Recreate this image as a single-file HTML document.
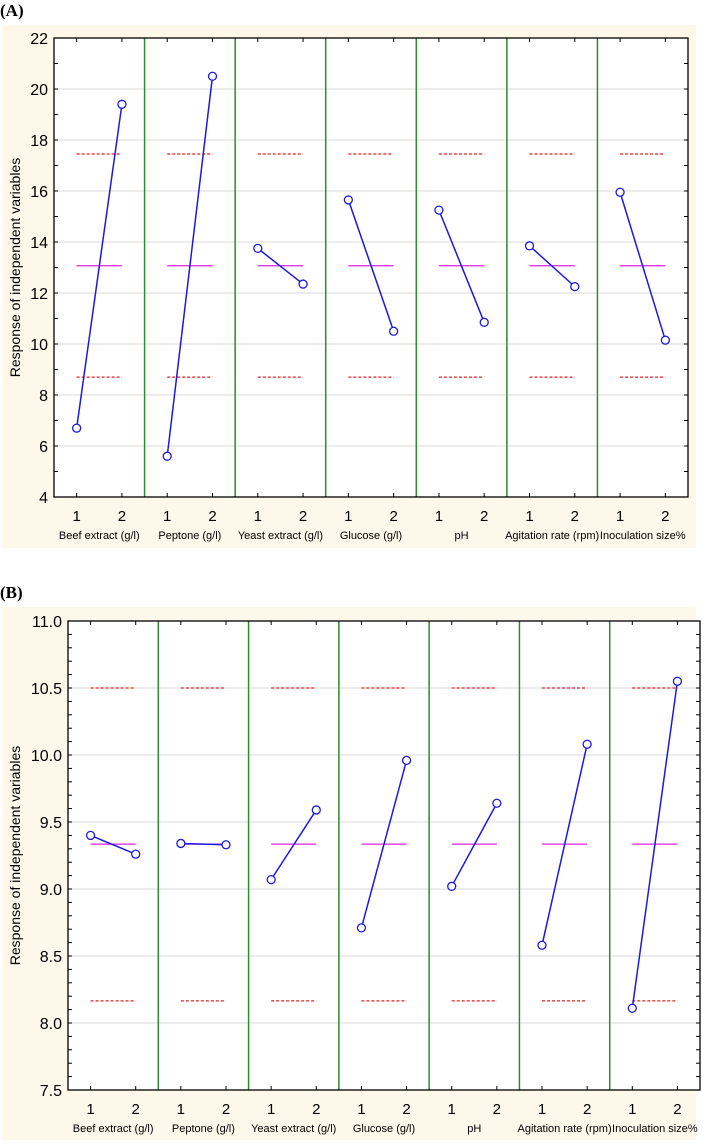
<!DOCTYPE html>
<html><head><meta charset="utf-8"><style>
body{margin:0;background:#fff;width:708px;height:1140px;overflow:hidden;font-family:"Liberation Sans",sans-serif}
</style></head><body>
<svg id="s" width="708" height="1140" xmlns="http://www.w3.org/2000/svg"></svg>
<script>
const categories=["Beef extract (g/l)","Peptone (g/l)","Yeast extract (g/l)","Glucose (g/l)","pH","Agitation rate (rpm)","Inoculation size%"];
const levelsA1=[6.7,5.6,13.75,15.65,15.25,13.85,15.95];
const levelsA2=[19.4,20.5,12.35,10.5,10.85,12.25,10.15];
const limitsA=[17.45,13.07,8.7];
const ticksA=[4,6,8,10,12,14,16,18,20,22];
const levelsB1=[9.40,9.34,9.07,8.71,9.02,8.58,8.11];
const levelsB2=[9.26,9.33,9.59,9.96,9.64,10.08,10.55];
const limitsB=[10.5,9.335,8.165];
const ticksB=[7.5,8.0,8.5,9.0,9.5,10.0,10.5,11.0];
const NS="http://www.w3.org/2000/svg";
const svg=document.getElementById('s');
function mk(t,a,p){const e=document.createElementNS(NS,t);for(const k in a)e.setAttribute(k,a[k]);(p||svg).appendChild(e);return e;}
function panel(cfg){
 const g=mk('g',{});
 
 
 const lab=mk('text',{x:0,y:cfg.labY,'font-family':'Liberation Serif','font-weight':'bold','font-size':17},g);lab.textContent=cfg.label;
 
 
 mk('rect',{x:2,y:cfg.bgT,width:694,height:cfg.bgB-cfg.bgT,fill:'#fdf8ea'},g);
 const L=cfg.L,R=cfg.R,T=cfg.T,B=cfg.B,cw=(R-L)/7;
 mk('rect',{x:L,y:T,width:R-L,height:B-T,fill:'#fff'},g);
 const y=v=>B-(v-cfg.min)/(cfg.max-cfg.min)*(B-T);
 cfg.ticks.forEach((t,i)=>{
  if(i>0&&i<cfg.ticks.length-1)mk('line',{x1:L,x2:R,y1:y(t),y2:y(t),stroke:'#d8d8d8','stroke-width':1},g);
  const tx=mk('text',{x:L-6,y:y(t)+6,'text-anchor':'end','font-size':16},g);tx.textContent=cfg.fmt(t);
  
  
 });
 for(let v=cfg.min;v<=cfg.max+1e-9;v+=cfg.minor){
  mk('line',{x1:L,x2:L+4,y1:y(v),y2:y(v),stroke:'#000'},g);
  mk('line',{x1:R,x2:R-4,y1:y(v),y2:y(v),stroke:'#000'},g);
 }
 for(let i=1;i<7;i++)mk('line',{x1:L+i*cw,x2:L+i*cw,y1:T,y2:B,stroke:'#2e8b2e','stroke-width':1.5},g);
 categories.forEach((c,i)=>{
  const x1=L+i*cw+cw/4,x2=L+i*cw+3*cw/4;
  [x1,x2].forEach((x,k)=>{
   mk('line',{x1:x,x2:x,y1:B,y2:B-4,stroke:'#000'},g);
   mk('line',{x1:x,x2:x,y1:T,y2:T+4,stroke:'#000'},g);
   const t=mk('text',{x:x,y:B+24,'text-anchor':'middle','font-size':15},g);t.textContent=String(k+1);
   
   
  });
  const ct=mk('text',{x:L+i*cw+cw/2,y:B+42,'text-anchor':'middle','font-size':11},g);ct.textContent=c;
  
  
  mk('line',{x1:x1,x2:x2,y1:y(cfg.lim[0]),y2:y(cfg.lim[0]),stroke:'#e02020','stroke-dasharray':'3,2','stroke-width':1.3},g);
  mk('line',{x1:x1,x2:x2,y1:y(cfg.lim[2]),y2:y(cfg.lim[2]),stroke:'#e02020','stroke-dasharray':'3,2','stroke-width':1.3},g);
  mk('line',{x1:x1,x2:x2,y1:y(cfg.lim[1]),y2:y(cfg.lim[1]),stroke:'#e020e0','stroke-width':1.3},g);
  const ln=mk('line',{x1:x1,x2:x2,y1:y(cfg.a[i]),y2:y(cfg.b[i]),stroke:'#1a1ae0','stroke-width':1.5},g);
  
  
  [[x1,cfg.a[i]],[x2,cfg.b[i]]].forEach(p=>{
   const c2=mk('circle',{cx:p[0],cy:y(p[1]),r:4,fill:'#fff',stroke:'#1a1ae0','stroke-width':1.3},g);
   
   
  });
 });
 mk('rect',{x:L,y:T,width:R-L,height:B-T,fill:'none',stroke:'#000','stroke-width':1.3},g);
 const yt=mk('text',{x:0,y:0,'text-anchor':'middle','font-size':14,transform:`translate(20,${(T+B)/2}) rotate(-90)`},g);
 yt.textContent='Response of independent variables';
 
 
}
panel({name:'panel-a',label:'(A)',labY:16,bgT:25,bgB:548,L:54,R:688,T:38,B:497,min:4,max:22,minor:1,ticks:ticksA,fmt:t=>String(t),a:levelsA1,b:levelsA2,lim:limitsA});
panel({name:'panel-b',label:'(B)',labY:598,bgT:607,bgB:1140,L:68,R:700,T:621,B:1090,min:7.5,max:11,minor:0.1,ticks:ticksB,fmt:t=>t.toFixed(1),a:levelsB1,b:levelsB2,lim:limitsB});
</script>
</body></html>
